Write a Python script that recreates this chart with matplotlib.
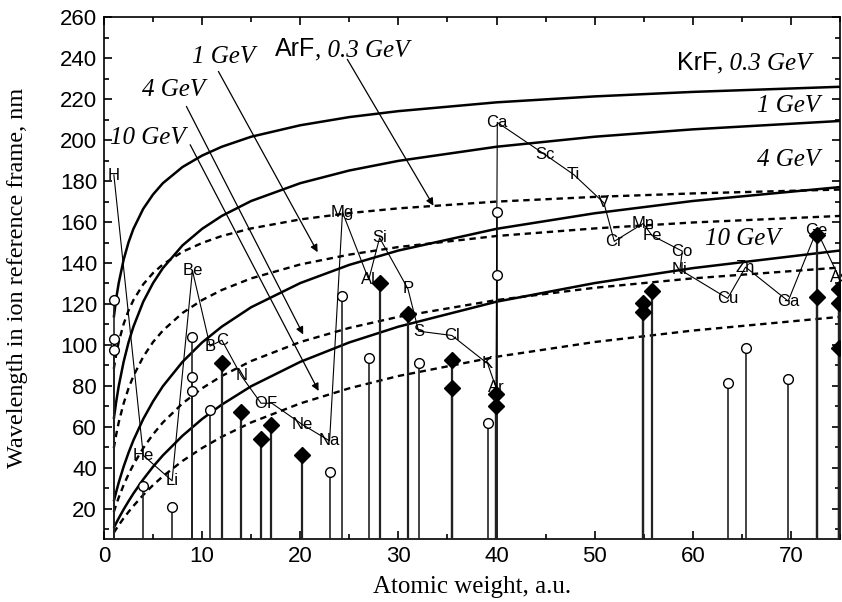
import matplotlib
matplotlib.use('Agg')
import matplotlib.pyplot as plt
from matplotlib.ticker import MultipleLocator
from matplotlib.transforms import offset_copy

SANS = ['Liberation Sans', 'DejaVu Sans']
SERIF = ['Liberation Serif', 'DejaVu Serif']
plt.rcParams['font.family'] = SANS

# atomic weight points where the Doppler curves were read
curve_A = [1, 1.25, 1.5, 2, 2.5, 3, 4, 5, 6, 8, 10, 12, 15, 20, 25, 30, 40, 50, 60, 75]

# KrF laser (solid)
krf_03 = [113.4, 122.8, 130.2, 141.6, 150.1, 156.7, 166.5, 173.5, 179.0, 186.9,
          192.5, 196.8, 201.7, 207.3, 211.3, 214.2, 218.5, 221.4, 223.6, 226.1]
krf_1 = [63.8, 72.4, 79.8, 91.7, 101.2, 108.9, 121.1, 130.2, 137.5, 148.6,
         156.7, 163.0, 170.3, 179.0, 185.2, 189.9, 196.8, 201.7, 205.3, 209.4]
krf_4 = [23.6, 28.3, 32.7, 40.5, 47.3, 53.4, 63.8, 72.4, 79.8, 91.7,
         101.2, 108.9, 118.4, 130.2, 139.1, 146.1, 156.7, 164.3, 170.3, 177.1]
krf_10 = [10.6, 13.0, 15.3, 19.6, 23.6, 27.4, 34.3, 40.5, 46.0, 55.6,
          63.8, 70.8, 79.8, 91.7, 101.2, 108.9, 121.1, 130.2, 137.5, 146.1]

# ArF laser (dashed)
arf_03 = [88.3, 95.5, 101.4, 110.2, 116.8, 121.9, 129.6, 135.1, 139.3, 145.5,
          149.8, 153.2, 156.9, 161.3, 164.4, 166.7, 170.0, 172.3, 174.0, 175.9]
arf_1 = [49.6, 56.3, 62.1, 71.4, 78.8, 84.8, 94.2, 101.4, 107.0, 115.6,
         121.9, 126.8, 132.5, 139.3, 144.1, 147.8, 153.2, 156.9, 159.8, 163.0]
arf_4 = [18.4, 22.0, 25.4, 31.5, 36.8, 41.5, 49.6, 56.3, 62.1, 71.4,
         78.8, 84.8, 92.1, 101.4, 108.3, 113.7, 121.9, 127.9, 132.5, 137.8]
arf_10 = [8.2, 10.1, 11.9, 15.3, 18.4, 21.3, 26.7, 31.5, 35.8, 43.3,
          49.6, 55.1, 62.1, 71.4, 78.8, 84.8, 94.2, 101.4, 107.0, 113.7]

# element labels joined by a thin line
elem_names = ['H', 'He', 'Li', 'Be', 'B', 'C', 'N', 'O', 'F', 'Ne', 'Na', 'Mg',
              'Al', 'Si', 'P', 'S', 'Cl', 'K', 'Ar', 'Ca', 'Sc', 'Ti', 'V', 'Cr',
              'Mn', 'Fe', 'Co', 'Ni', 'Cu', 'Zn', 'Ga', 'Ge', 'As']
elem_A = [1.008, 4.003, 6.94, 9.012, 10.81, 12.011, 14.007, 15.999, 17.1, 20.18,
          22.99, 24.305, 26.98, 28.086, 30.97, 32.06, 35.45, 39.10, 39.95, 40.08,
          44.96, 47.87, 50.94, 52.00, 54.94, 55.85, 58.93, 58.69, 63.55, 65.38,
          69.72, 72.63, 74.92]
elem_y = [183.0, 46.0, 33.6, 136.3, 99.4, 102.3, 84.8, 71.5, 71.5, 61.2,
          53.1, 164.8, 131.9, 152.3, 127.4, 106.7, 104.6, 90.8, 79.1, 208.7,
          192.9, 183.2, 169.4, 150.6, 159.3, 153.4, 145.8, 136.8, 122.7, 138.0,
          121.4, 155.9, 132.8]

# open circles with drop lines
circ_A = [1.008, 1.008, 1.008, 4.003, 6.94, 9.012, 9.012, 9.012, 10.81, 22.99,
          24.305, 26.98, 32.06, 39.10, 40.08, 40.08, 63.55, 65.38, 69.72]
circ_y = [121.9, 102.7, 97.3, 31.0, 20.6, 103.8, 84.5, 77.6, 68.0, 38.1,
          123.8, 93.4, 91.3, 61.6, 164.8, 133.9, 81.6, 98.6, 83.2]

# filled diamonds with drop lines
diam_A = [12.011, 14.007, 16.0, 17.0, 20.18, 28.086, 30.97, 35.45, 35.45, 39.95,
          39.95, 54.94, 54.94, 55.85, 72.63, 72.63, 74.92, 74.92, 74.92]
diam_y = [91.0, 67.4, 54.2, 60.9, 46.2, 130.3, 115.2, 92.6, 78.9, 75.9,
          70.1, 120.6, 116.0, 126.2, 153.9, 123.5, 127.1, 120.6, 98.6]

fig = plt.figure(figsize=(8.42, 6.02), dpi=100)
ax = fig.add_axes([0.1235, 0.1041, 0.8741, 0.8670])

for ys in [krf_03, krf_1, krf_4, krf_10]:
    ax.plot(curve_A, ys, color='black', lw=1.8, solid_capstyle='butt', zorder=2)
for ys in [arf_03, arf_1, arf_4, arf_10]:
    ax.plot(curve_A, ys, color='black', lw=1.7, linestyle=(0, (2.7, 2.0)), zorder=2)

ax.vlines(circ_A, 0, circ_y, color='#222222', lw=1.2, zorder=3)
ax.vlines(diam_A, 0, diam_y, color='#222222', lw=1.6, zorder=3)
ax.plot(circ_A, circ_y, 'o', ms=7, mfc='white', mec='black', mew=1.0,
        linestyle='none', zorder=5)
ax.plot(diam_A, diam_y, 'D', ms=8, mfc='black', mec='black',
        linestyle='none', zorder=5)

ax.plot(elem_A, elem_y, color='black', lw=0.8, zorder=4)
for name, a, yv in zip(elem_names, elem_A, elem_y):
    ax.text(a, yv, name, fontsize=12, ha='center', va='center', zorder=6,
            family=SANS)

# curve labels
ital = dict(family=SERIF, style='italic', fontsize=18)
ax.text(12.14, 240.8, '1 GeV', ha='center', va='center', **ital)
ax.text(7.04, 224.3, '4 GeV', ha='center', va='center', **ital)
ax.text(4.42, 201.1, '10 GeV', ha='center', va='center', **ital)
ax.text(72.96, 216.5, '1 GeV', ha='right', va='center', **ital)
ax.text(72.96, 190.5, '4 GeV', ha='right', va='center', **ital)
ax.text(65.05, 151.5, '10 GeV', ha='center', va='center', **ital)

arr = dict(arrowstyle='-|>', color='black', lw=0.9, mutation_scale=11,
           shrinkA=0, shrinkB=0)
ax.annotate('', xy=(21.77, 145.3), xytext=(11.66, 233.6), arrowprops=arr)
ax.annotate('', xy=(20.3, 105.1), xytext=(8.40, 216.5), arrowprops=arr)
ax.annotate('', xy=(21.87, 77.5), xytext=(8.78, 197.8), arrowprops=arr)
ax.annotate('', xy=(33.57, 168.0), xytext=(24.8, 239.5), arrowprops=arr)

ax.set_xlim(0, 75)
ax.set_ylim(5, 260)
ax.xaxis.set_major_locator(MultipleLocator(10))
ax.xaxis.set_minor_locator(MultipleLocator(5))
ax.yaxis.set_minor_locator(MultipleLocator(10))
ax.set_yticks(range(20, 261, 20))
ax.tick_params(which='both', direction='in', top=True, right=True, width=1.2)
ax.tick_params(which='major', length=6, labelsize=16, pad=5)
ax.tick_params(which='minor', length=3.5)
for lbl in ax.get_xticklabels() + ax.get_yticklabels():
    lbl.set_family(SANS)
for sp in ax.spines.values():
    sp.set_linewidth(1.2)

ax.set_xlabel('Atomic weight, a.u.', family=SERIF, fontsize=18)
ax.set_ylabel('Wavelength in ion reference frame, nm', family=SERIF,
              fontsize=17.5, va='center')
ax.xaxis.set_label_coords(0.5, -0.07)
ax.yaxis.set_label_coords(-0.118, 0.5)

# mixed-font laser titles
fig.canvas.draw()
t1 = ax.text(17.45, 240.9, 'ArF', ha='left', va='baseline', fontsize=18,
             family=SANS)
w1 = t1.get_window_extent(fig.canvas.get_renderer()).width
ax.text(17.45, 240.9, ', 0.3 GeV', ha='left', va='baseline',
        transform=offset_copy(ax.transData, fig, x=w1, units='dots'), **ital)

t2 = ax.text(72.1, 234.4, ', 0.3 GeV', ha='right', va='baseline', **ital)
w2 = t2.get_window_extent(fig.canvas.get_renderer()).width
ax.text(72.1, 234.4, 'KrF', ha='right', va='baseline', fontsize=18, family=SANS,
        transform=offset_copy(ax.transData, fig, x=-w2, units='dots'))

fig.savefig('out.png', dpi=100)
